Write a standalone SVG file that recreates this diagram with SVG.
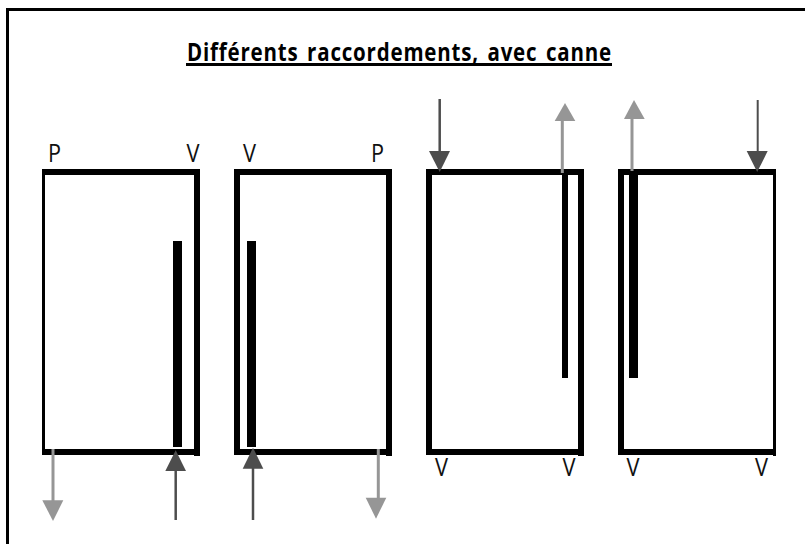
<svg xmlns="http://www.w3.org/2000/svg" width="805" height="544" viewBox="0 0 805 544">
<style>
.t{font-family:"Open Sans","Liberation Sans",sans-serif;font-size:25px;fill:#111}
.h{font-family:"Open Sans","Liberation Sans",sans-serif;font-size:25px;font-weight:700;fill:#000;letter-spacing:1px;word-spacing:3px}
.k{fill:#000}
.dl{stroke:#4d4d4d;stroke-width:2.500;fill:none}
.dn{stroke:#4d4d4d;stroke-width:2;fill:none}
.gl{stroke:#969696;stroke-width:3;fill:none}
.df{fill:#4d4d4d}
.gf{fill:#969696}
</style>
<rect width="805" height="544" fill="#fff"/>
<path class="k" d="M6 8H805V11H9V544H6Z"/>
<g id="title"><text class="h" x="187" y="61" textLength="425" lengthAdjust="spacingAndGlyphs">Différents raccordements, avec canne</text><rect class="k" x="186" y="63" width="426" height="3"/></g>
<g id="node1"><path class="k" fill-rule="evenodd" d="M42 169H200V456H194V455H42ZM45 175V449H194V175Z"/><rect class="k" x="173" y="241" width="9" height="206"/><text class="t" x="48" y="162" textLength="13" lengthAdjust="spacingAndGlyphs">P</text><text class="t" x="186.500" y="162" textLength="13" lengthAdjust="spacingAndGlyphs">V</text></g>
<g id="node2"><path class="k" fill-rule="evenodd" d="M234 169H392V456H386V455H234ZM240 175V449H386V175Z"/><rect class="k" x="247" y="241" width="9" height="206"/><text class="t" x="243" y="162" textLength="13" lengthAdjust="spacingAndGlyphs">V</text><text class="t" x="371" y="162" textLength="13" lengthAdjust="spacingAndGlyphs">P</text></g>
<g id="node3"><path class="k" fill-rule="evenodd" d="M426 169H584V456H578V455H426ZM432 175V449H578V175Z"/><rect class="k" x="562" y="169" width="6" height="209"/><text class="t" x="435" y="476" textLength="13" lengthAdjust="spacingAndGlyphs">V</text><text class="t" x="562.500" y="476" textLength="13" lengthAdjust="spacingAndGlyphs">V</text></g>
<g id="node4"><path class="k" fill-rule="evenodd" d="M618 169H776V456H773V455H618ZM624 175V449H773V175Z"/><rect class="k" x="629" y="169" width="9" height="209"/><text class="t" x="626.500" y="476" textLength="13" lengthAdjust="spacingAndGlyphs">V</text><text class="t" x="755" y="476" textLength="13" lengthAdjust="spacingAndGlyphs">V</text></g>
<g id="connectors">
<path class="gl" d="M53 449V501"/><path class="gf" d="M42.300 500.300H63.300L53 521Z"/>
<path class="dl" d="M175.700 520V470"/><path class="df" d="M165.300 471H186L175.700 450.300Z"/>
<path class="dl" d="M253 520V468"/><path class="df" d="M242.700 468.700H263.300L253 447.700Z"/>
<path class="gl" d="M378.300 449V498"/><path class="gf" d="M365.700 497.700H386.300L376 518.700Z"/>
<path class="dl" d="M439.700 99V152"/><path class="df" d="M429 151H450L439.700 172Z"/>
<path class="gl" d="M562.300 173V120"/><path class="gf" d="M554.700 121H575.300L565 103Z"/>
<path class="gl" d="M632 171V118"/><path class="gf" d="M624 119H644.700L634 100Z"/>
<path class="dn" d="M757.700 100V152"/><path class="df" d="M746.700 151H767.700L757.200 172Z"/>
</g>
</svg>
